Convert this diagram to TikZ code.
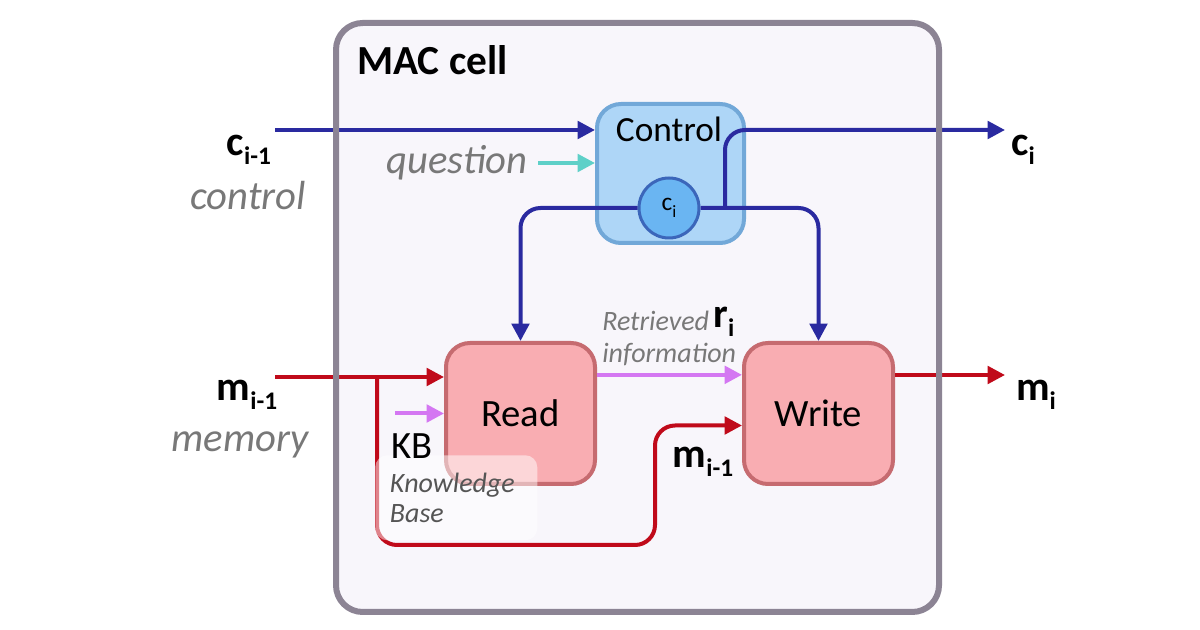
\documentclass[tikz,border=0pt]{standalone}
\usepackage{fontspec}
\setmainfont{Carlito}
\usepackage{tikz}
\usetikzlibrary{arrows.meta,positioning,calc}
\definecolor{ctrlblue}{HTML}{2A2AA0}
\definecolor{memred}{HTML}{C00A1A}
\definecolor{infoviolet}{HTML}{D477F2}
\definecolor{questcyan}{HTML}{5ED0C8}
\definecolor{cellgray}{HTML}{8C8494}
\definecolor{cellback}{HTML}{F8F6FB}
\definecolor{ctrlfill}{HTML}{AED6F7}
\definecolor{ctrldraw}{HTML}{72A8D8}
\definecolor{cifill}{HTML}{6AB5F2}
\definecolor{cidraw}{HTML}{3B66BA}
\definecolor{unitfill}{HTML}{F9ADB2}
\definecolor{unitdraw}{HTML}{C66B70}
\definecolor{grisT}{RGB}{120,120,120}
\definecolor{grisK}{RGB}{85,85,85}
\newcommand{\varsub}[2]{#1\raisebox{-0.22em}{\fontsize{19}{19}\selectfont #2}}
\tikzset{
  cell/.style={rectangle, fill=cellback, rounded corners=20pt, inner sep=0pt, outer sep=0pt,
               minimum width=452.25pt, minimum height=441.75pt},
  unitbox/.style={rectangle, rounded corners=18pt, draw=#1draw, line width=3pt, fill=#1fill,
                  minimum width=111.75pt, minimum height=105.75pt, font=\fontsize{29}{31}\selectfont},
  flow/.style={-{Triangle[length=13pt,width=13pt]}, line width=3pt, draw=#1},
  varlabel/.style={inner sep=0pt, font=\fontsize{31}{33}\selectfont\bfseries},
  gloss/.style={inner sep=0pt, text=grisT, font=\fontsize{30.5}{32}\selectfont\itshape},
  kbnote/.style={rectangle, rounded corners=9pt, fill=white, fill opacity=0.5, text opacity=1,
                 text=grisK, font=\fontsize{21}{23}\selectfont\itshape, align=left,
                 text width=99.5pt, inner xsep=11pt, minimum height=63.75pt},
}
\begin{document}
\begin{tikzpicture}[x=0.75pt, y=-0.75pt]
    \path[fill=white, use as bounding box] (0,0) rectangle (1200,630);
    \node[cell] (cell) at (637.5,317.5) {};
    \node[anchor=west, inner sep=0pt, font=\fontsize{31}{33}\selectfont\bfseries] (title) at (357,60) {MAC cell};
    % units
    \node[unitbox=ctrl, minimum width=110.25pt, minimum height=104.25pt] (ctrl) at (670.5,173.5) {};
    \node[anchor=base, inner sep=0pt, font=\fontsize{26.5}{28}\selectfont] (ctrltext) at (669,142) {Control};
    \node[unitbox=unit] (read) at (520.5,413.5) {Read};
    \node[unitbox=unit] (write) at (818.5,413.5) {Write};
    \node[circle, draw=cidraw, line width=2.25pt, fill=cifill, minimum size=45pt, inner sep=0pt,
          font=\fontsize{19}{19}\selectfont] (ci) at (669,208) {c\raisebox{-0.3em}{\fontsize{13}{13}\selectfont i}};
    % control flow
    \coordinate (cprev) at (275,130);
    \coordinate (cnext) at (1005,130);
    \coordinate (ctap) at (725,209);
    \draw[flow=ctrlblue] (cprev) -- (cprev -| ctrl.west);
    \node[gloss, anchor=east] (question) at (528,163) {question};
    \draw[flow=questcyan] ([xshift=7.5pt]question.east) -- (question -| ctrl.west);
    \draw[flow=ctrlblue, rounded corners=15pt] (ci.west) -| (read.north);
    \draw[flow=ctrlblue, rounded corners=15pt] (ci.east) -| (write.north);
    \draw[flow=ctrlblue, rounded corners=15pt] (ctap) |- (cnext);
    % memory flow
    \coordinate (mprev) at (275,377);
    \coordinate (mnext) at (1005,375);
    \coordinate (mtap) at (377,377);
    \coordinate (mloop) at (655,545);
    \draw[flow=memred] (mprev) -- (mprev -| read.west);
    \draw[flow=memred, rounded corners=15pt] (mtap) |- (mloop) |- ([yshift=-9pt]write.west);
    \draw[flow=memred] (mnext -| write.east) -- (mnext);
    % retrieved information
    \draw[flow=infoviolet] ([yshift=29pt]read.east) -- ([yshift=29pt]write.west);
    \coordinate (kbin) at (395,413.5);
    \draw[flow=infoviolet] (kbin) -- (read.west);
    \node[kbnote, anchor=north west] (kbtext) at (375,455) {Knowledge\\Base};
    \node[anchor=base west, inner sep=0pt, font=\fontsize{29}{30}\selectfont] (kb) at (391,459) {KB};
    \node[anchor=west, align=left, inner sep=0pt, text=grisT, font=\fontsize{21}{24}\selectfont\itshape] (retr) at (602,338) {Retrieved\\information};
    \node[varlabel] (ri) at (724,322) {\varsub{r}{i}};
    \node[varlabel] (mwrite) at (703,462) {\varsub{m}{i-1}};
    % outer labels
    \node[varlabel] (cprevlab) at (249,150) {\varsub{c}{i-1}};
    \node[gloss] (controllab) at (248,196) {control};
    \node[varlabel] (mprevlab) at (247,395) {\varsub{m}{i-1}};
    \node[gloss] (memorylab) at (240,445) {memory};
    \node[varlabel] (cnextlab) at (1023,150) {\varsub{c}{i}};
    \node[varlabel] (mnextlab) at (1036,395) {\varsub{m}{i}};
    \draw[cellgray, line width=4.5pt, rounded corners=20pt] (cell.north west) rectangle (cell.south east);
\end{tikzpicture}
\end{document}
